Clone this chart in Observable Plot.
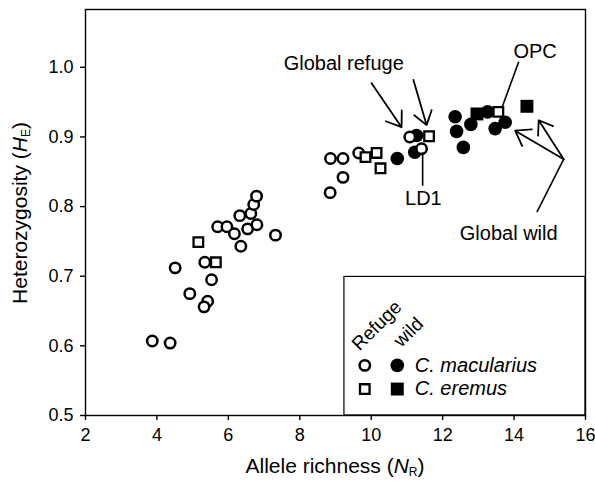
<!DOCTYPE html>
<html>
<head>
<meta charset="utf-8">
<script src="https://cdn.jsdelivr.net/npm/d3@7"></script>
<script src="https://cdn.jsdelivr.net/npm/@observablehq/plot@0.6"></script>
<style>
  html, body { margin: 0; padding: 0; background: white; }
  #chart { width: 595px; height: 481px; }
</style>
</head>
<body>
<div id="chart"></div>
<script>
// ---- Data ----
// Refuge C. macularius (open circles)
const refugeMacNR = [3.87, 4.37, 4.51, 5.34, 5.53, 4.92, 5.42, 5.32, 5.70, 5.96, 6.17, 6.35, 6.32, 6.63, 6.54, 6.80, 6.71, 6.79, 7.32, 8.85, 8.86, 9.21, 9.21, 9.65, 11.08, 11.41];
const refugeMacHE = [0.607, 0.604, 0.712, 0.720, 0.695, 0.675, 0.664, 0.656, 0.771, 0.771, 0.761, 0.743, 0.787, 0.790, 0.768, 0.774, 0.803, 0.815, 0.759, 0.820, 0.869, 0.869, 0.842, 0.877, 0.900, 0.883];
// Refuge C. eremus (open squares)
const refugeEreNR = [5.16, 5.65, 9.84, 10.15, 10.26, 11.62, 13.56];
const refugeEreHE = [0.749, 0.720, 0.871, 0.877, 0.855, 0.901, 0.936];
// Wild C. macularius (filled circles)
const wildMacNR = [10.73, 11.27, 11.22, 12.35, 12.39, 12.58, 12.79, 13.26, 13.47, 13.75];
const wildMacHE = [0.869, 0.902, 0.878, 0.929, 0.908, 0.885, 0.918, 0.936, 0.912, 0.921];
// Wild C. eremus (filled squares)
const wildEreNR = [12.96, 14.36];
const wildEreHE = [0.933, 0.944];

// Axis ticks
const xTicks = [2, 4, 6, 8, 10, 12, 14, 16];
const yTicks = [0.5, 0.6, 0.7, 0.8, 0.9, 1.0];

// Annotations (data coordinates)
const labelTexts = ["Global refuge", "OPC", "LD1", "Global wild"];
const labelNR = [9.23, 14.59, 11.46, 13.85];
const labelHE = [1.006, 1.023, 0.811, 0.761];
const arrowFrom = [[10.01, 0.977], [11.18, 0.982], [15.39, 0.868], [15.39, 0.868]];
const arrowTo   = [[10.85, 0.914], [11.55, 0.917], [14.03, 0.909], [14.69, 0.924]];
const lineFrom  = [[14.13, 1.008], [11.44, 0.878], [15.39, 0.868]];
const lineTo    = [[13.66, 0.942], [11.44, 0.830], [14.64, 0.792]];

// Legend
const legendSpecies = ["C. macularius", "C. eremus"];
const legendHeaders = ["Refuge", "wild"];

// ---- Build tables ----
const zipPts = (xs, ys) => xs.map((x, i) => ({x, y: ys[i]}));
const refugeMac = zipPts(refugeMacNR, refugeMacHE);
const refugeEre = zipPts(refugeEreNR, refugeEreHE);
const wildMac = zipPts(wildMacNR, wildMacHE);
const wildEre = zipPts(wildEreNR, wildEreHE);
const labels = labelTexts.map((t, i) => ({t, x: labelNR[i], y: labelHE[i]}));
const arrows = arrowFrom.map((a, i) => ({x1: a[0], y1: a[1], x2: arrowTo[i][0], y2: arrowTo[i][1]}));
const lines = lineFrom.map((a, i) => ({x1: a[0], y1: a[1], x2: lineTo[i][0], y2: lineTo[i][1]}));

// legend positions (data coords inside box)
const legendBox = [{x1: 9.25, x2: 16, y1: 0.5, y2: 0.699}];
const legendRows = [0.572, 0.538];
const legendColRefuge = 9.82, legendColWild = 10.73, legendTextX = 11.22;
const legendItems = legendSpecies.map((s, i) => ({s, y: legendRows[i]}));
const legendHead = [{t: legendHeaders[0], x: 9.55, y: 0.598}, {t: legendHeaders[1], x: 10.72, y: 0.603}];

const openCircle = {r: 5.2, fill: "white", stroke: "black", strokeWidth: 2.5};
const openSquare = {r: 5.4, symbol: "square", fill: "white", stroke: "black", strokeWidth: 2.3};
const fullCircle = {r: 6.8, fill: "black"};
const fullSquare = {r: 7.3, symbol: "square", fill: "black"};

const chart = Plot.plot({
  width: 595,
  height: 481,
  marginLeft: 85,
  marginRight: 10,
  marginTop: 9,
  marginBottom: 66,
  style: {fontFamily: "'Liberation Sans', Arial, sans-serif", fontSize: "18px", color: "black", background: "white"},
  x: {domain: [2, 16]},
  y: {domain: [0.5, 1.083]},
  marks: [
    Plot.rect(legendBox, {x1: "x1", x2: "x2", y1: "y1", y2: "y2", fill: "white", stroke: "black", strokeWidth: 1.2}),
    Plot.frame({stroke: "black", strokeWidth: 1.4}),
    Plot.axisX({ticks: xTicks, tickSize: 5, tickPadding: 8, label: null, fontSize: 18, strokeWidth: 1.4}),
    Plot.axisY({ticks: yTicks, tickFormat: d3.format(".1f"), tickSize: 5, tickPadding: 7, label: null, fontSize: 18, strokeWidth: 1.4}),
    Plot.dot(wildMac, {x: "x", y: "y", ...fullCircle}),
    Plot.dot(wildEre, {x: "x", y: "y", ...fullSquare}),
    Plot.dot(refugeMac, {x: "x", y: "y", ...openCircle}),
    Plot.dot(refugeEre, {x: "x", y: "y", ...openSquare}),
    Plot.link(lines, {x1: "x1", y1: "y1", x2: "x2", y2: "y2", stroke: "black", strokeWidth: 1.6}),
    Plot.arrow(arrows, {x1: "x1", y1: "y1", x2: "x2", y2: "y2", stroke: "black", strokeWidth: 1.8, headLength: 14, headAngle: 70, bend: 0}),
    Plot.text(labels, {x: "x", y: "y", text: "t", fontSize: 20, fill: "black"}),
    // legend
    Plot.dot(legendItems.slice(0, 1), {x: () => legendColRefuge, y: "y", ...openCircle}),
    Plot.dot(legendItems.slice(0, 1), {x: () => legendColWild, y: "y", ...fullCircle}),
    Plot.dot(legendItems.slice(1, 2), {x: () => legendColRefuge, y: "y", ...openSquare}),
    Plot.dot(legendItems.slice(1, 2), {x: () => legendColWild, y: "y", ...fullSquare}),
    Plot.text(legendItems, {x: () => legendTextX, y: "y", text: "s", textAnchor: "start", fontStyle: "italic", fontSize: 20, fill: "black"}),
    Plot.text(legendHead, {x: "x", y: "y", text: "t", textAnchor: "start", rotate: -45, fontSize: 19, fill: "black"})
  ]
});

document.getElementById("chart").appendChild(chart);

// Axis titles with italic letter and subscript
const svg = d3.select(chart);
const xt = svg.append("text")
  .attr("x", 335).attr("y", 473)
  .attr("text-anchor", "middle")
  .attr("font-size", 21)
  .attr("fill", "black");
xt.append("tspan").text("Allele richness (");
xt.append("tspan").attr("font-style", "italic").text("N");
xt.append("tspan").attr("font-size", 12).attr("dy", 3).text("R");
xt.append("tspan").attr("dy", -3).text(")");

const yt = svg.append("text")
  .attr("transform", "translate(27,213) rotate(-90)")
  .attr("text-anchor", "middle")
  .attr("font-size", 21)
  .attr("fill", "black");
yt.append("tspan").text("Heterozygosity (");
yt.append("tspan").attr("font-style", "italic").text("H");
yt.append("tspan").attr("font-size", 12).attr("dy", 3).text("E");
yt.append("tspan").attr("dy", -3).text(")");
</script>
</body>
</html>
